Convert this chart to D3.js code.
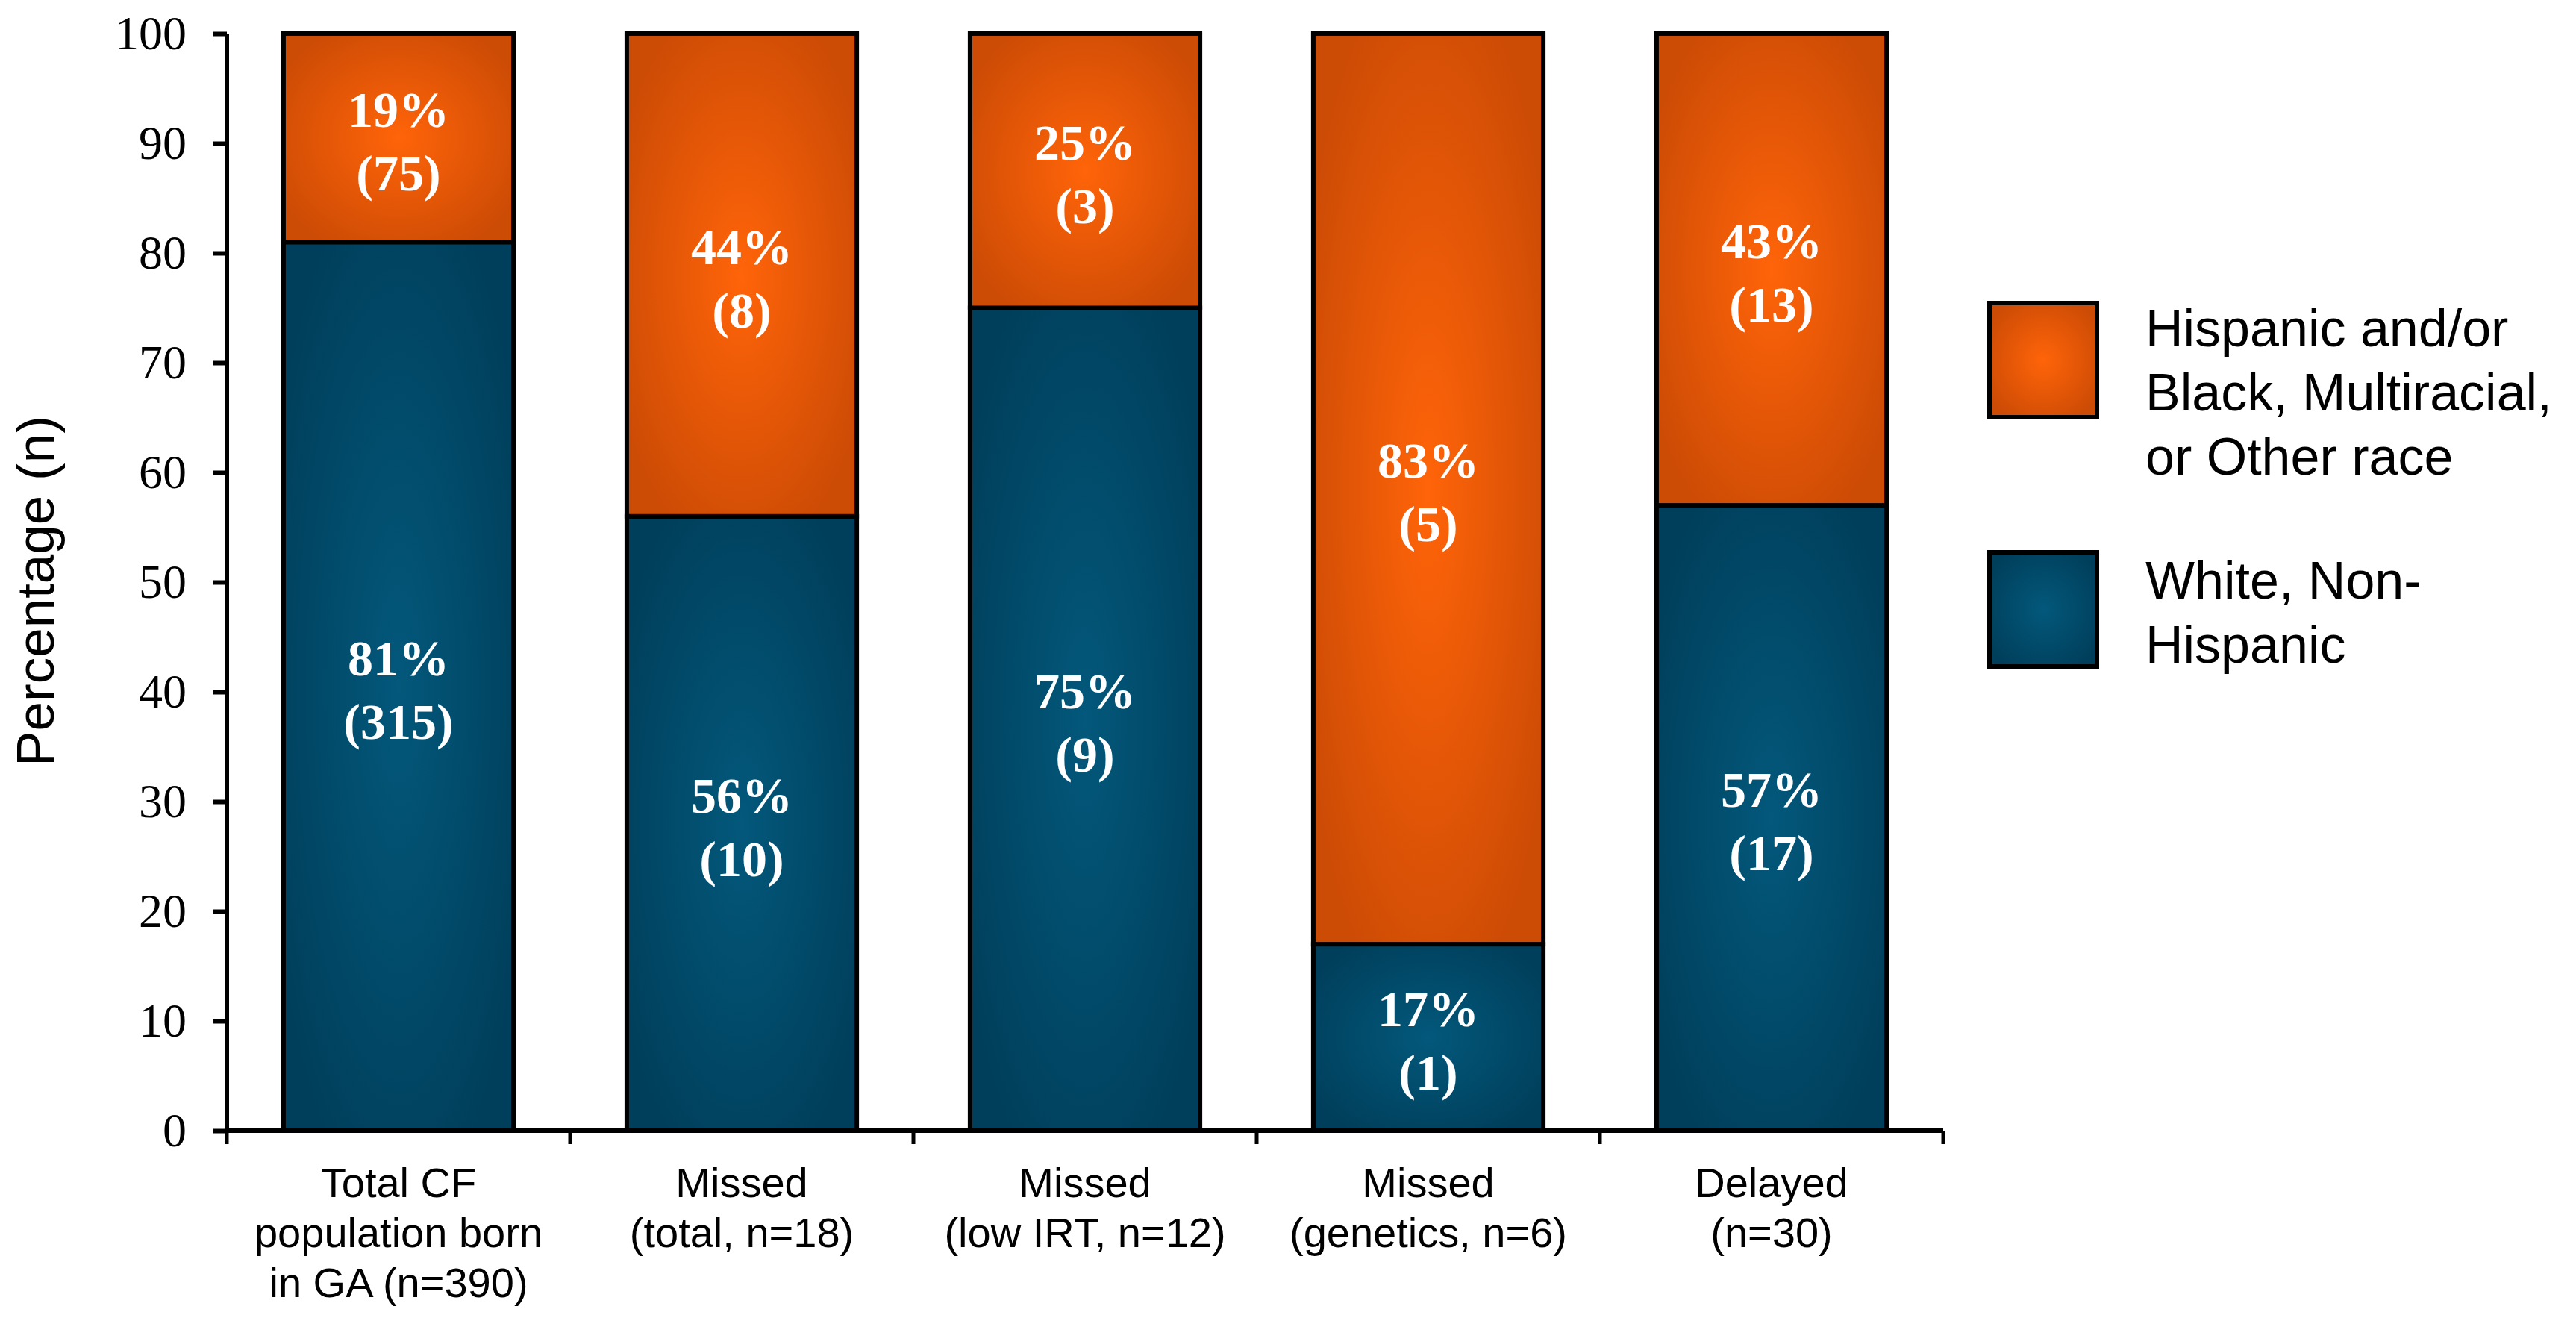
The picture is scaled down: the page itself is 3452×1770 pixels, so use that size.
<!DOCTYPE html>
<html>
<head>
<meta charset="utf-8">
<title>CF newborn screening by race/ethnicity</title>
<script src="https://d3js.org/d3.v7.min.js"></script>
<style>
	html, body { margin: 0; padding: 0; background: #fff; }
	svg { display: block; }
</style>
</head>
<body>
<div id="container"></div>
<script>

// chart data
var categories = ["Total CF population born in GA (n=390)", "Missed (total, n=18)", "Missed (low IRT, n=12)", "Missed (genetics, n=6)", "Delayed (n=30)"];
var categoryLines = [
	["Total CF", "population born", "in GA (n=390)"],
	["Missed", "(total, n=18)"],
	["Missed", "(low IRT, n=12)"],
	["Missed", "(genetics, n=6)"],
	["Delayed", "(n=30)"]
];
var whitePct = [81, 56, 75, 17, 57];
var whiteN = [315, 10, 9, 1, 17];
var otherPct = [19, 44, 25, 83, 43];
var otherN = [75, 8, 3, 5, 13];
var yTicks = [0, 10, 20, 30, 40, 50, 60, 70, 80, 90, 100];
var seriesKeys = ["white", "other"];
var seriesNames = {
	white: ["White, Non-", "Hispanic"],
	other: ["Hispanic and/or", "Black, Multiracial,", "or Other race"]
};

var width = 3452, height = 1770;

var svg = d3.select("#container")
	.append("svg")
	.attr("width", width)
	.attr("height", height);

// radial shading for bars
var defs = svg.append("defs");
var grads = {
	other: ["#ff6409", "#cc4b05"],
	white: ["#03587b", "#003f5b"]
};
seriesKeys.forEach(function(k) {
	var g = defs.append("radialGradient")
		.attr("id", "grad-" + k)
		.attr("cx", "50%").attr("cy", "50%").attr("r", "60%");
	g.append("stop").attr("offset", "0%").attr("stop-color", grads[k][0]);
	g.append("stop").attr("offset", "100%").attr("stop-color", grads[k][1]);
});

var rows = categories.map(function(c, i) {
	return { cat: c, white: whitePct[i], other: otherPct[i], whiteN: whiteN[i], otherN: otherN[i] };
});

var x = d3.scaleBand()
	.domain(categories)
	.range([304, 2604])
	.paddingInner(0.33)
	.paddingOuter(0.165);

var y = d3.scaleLinear()
	.domain([0, 100])
	.range([1515, 45]);

var stacked = d3.stack().keys(seriesKeys)(rows);

// bars
var layers = svg.selectAll(".layer")
	.data(stacked)
	.enter().append("g")
	.attr("class", "layer");

layers.selectAll("rect")
	.data(function(d) { return d.map(function(v) { v.key = d.key; return v; }); })
	.enter().append("rect")
	.attr("x", function(d) { return x(d.data.cat); })
	.attr("y", function(d) { return y(d[1]); })
	.attr("width", x.bandwidth())
	.attr("height", function(d) { return y(d[0]) - y(d[1]); })
	.attr("fill", function(d) { return "url(#grad-" + d.key + ")"; })
	.attr("stroke", "#000")
	.attr("stroke-width", 6);

// value labels, sitting a touch below the segment middle
layers.selectAll(".val")
	.data(function(d) { return d; })
	.enter().append("text")
	.attr("class", "val")
	.attr("x", function(d) { return x(d.data.cat) + x.bandwidth() / 2; })
	.attr("y", function(d) { return (y(d[0]) + y(d[1])) / 2 + 7; })
	.attr("text-anchor", "middle")
	.attr("fill", "#fff")
	.style("font-family", "'Liberation Serif', 'Times New Roman', serif")
	.style("font-weight", "bold")
	.style("font-size", "68px")
	.each(function(d) {
		var t = d3.select(this);
		var pct = d.data[d.key];
		var n = d.data[d.key + "N"];
		t.append("tspan").attr("x", t.attr("x")).attr("dy", "-0.32em").text(pct + "%");
		t.append("tspan").attr("x", t.attr("x")).attr("dy", "1.25em").text("(" + n + ")");
	});

// y axis
var yAxis = svg.append("g")
	.attr("transform", "translate(304,0)")
	.call(d3.axisLeft(y).tickValues(yTicks).tickSize(18).tickPadding(36));
yAxis.select(".domain").attr("stroke-width", 6).attr("d", "M0," + y(0) + "V" + y(100));
yAxis.selectAll(".tick line").attr("stroke-width", 6);
yAxis.selectAll(".tick text")
	.attr("fill", "#000")
	.style("font-family", "'Liberation Serif', 'Times New Roman', serif")
	.style("font-size", "64px");

// x axis: ticks sit between the categories
var xEdges = categories.map(function(c) { return x(c) - x.step() * x.paddingInner() / 2; });
xEdges.push(2604);
var xAxis = svg.append("g").attr("class", "xaxis");
xAxis.append("line")
	.attr("x1", 301).attr("x2", 2604)
	.attr("y1", y(0)).attr("y2", y(0))
	.attr("stroke", "#000").attr("stroke-width", 6);
xAxis.selectAll(".xt")
	.data(xEdges)
	.enter().append("line")
	.attr("x1", function(d) { return d; }).attr("x2", function(d) { return d; })
	.attr("y1", y(0)).attr("y2", y(0) + 18)
	.attr("stroke", "#000").attr("stroke-width", 5);

xAxis.selectAll(".cat")
	.data(categories)
	.enter().append("text")
	.attr("class", "cat")
	.attr("text-anchor", "middle")
	.style("font-family", "'Liberation Sans', Arial, sans-serif")
	.style("font-size", "56px")
	.each(function(c, i) {
		var t = d3.select(this);
		var cx = x(c) + x.bandwidth() / 2;
		categoryLines[i].forEach(function(line, j) {
			t.append("tspan").attr("x", cx).attr("y", 1604 + j * 67).text(line);
		});
	});

// y axis title
svg.append("text")
	.attr("transform", "translate(72,792) rotate(-90)")
	.attr("text-anchor", "middle")
	.style("font-family", "'Liberation Sans', Arial, sans-serif")
	.style("font-size", "71px")
	.text("Percentage (n)");

// legend
var legendItems = [
	{ key: "other", top: 406, textY: 464 },
	{ key: "white", top: 740, textY: 802 }
];
var legend = svg.selectAll(".legend")
	.data(legendItems)
	.enter().append("g")
	.attr("class", "legend");
legend.append("rect")
	.attr("x", 2666).attr("y", function(d) { return d.top; })
	.attr("width", 144).attr("height", 153)
	.attr("fill", function(d) { return "url(#grad-" + d.key + ")"; })
	.attr("stroke", "#000").attr("stroke-width", 6);
legend.append("text")
	.style("font-family", "'Liberation Sans', Arial, sans-serif")
	.style("font-size", "70px")
	.each(function(d) {
		var t = d3.select(this);
		seriesNames[d.key].forEach(function(line, j) {
			t.append("tspan").attr("x", 2875).attr("y", d.textY + j * 86).text(line);
		});
	});

</script>
</body>
</html>
